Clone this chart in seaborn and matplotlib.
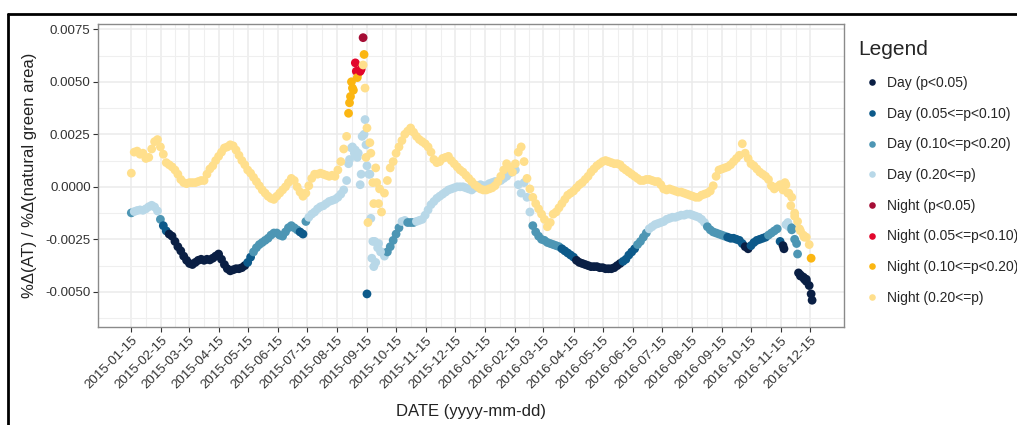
import numpy as np
import pandas as pd
import matplotlib
matplotlib.use("Agg")
import matplotlib.pyplot as plt
import matplotlib.dates as mdates
from matplotlib.lines import Line2D
import seaborn as sns

# ---------------------------------------------------------------------------
# Ratio %d(AT)/%d(natural green area), values in units of 1e-4.
# Main series sampled every 3 days starting 2015-01-15.
# Class strings: one digit per sample, 0 p<0.05, 1 0.05-0.10, 2 0.10-0.20, 3 >=0.20
# ---------------------------------------------------------------------------
start_date = "2015-01-15"
end_date = "2016-12-15"
step_days = 3

class_labels = [
    "Day (p<0.05)", "Day (0.05<=p<0.10)", "Day (0.10<=p<0.20)", "Day (0.20<=p)",
    "Night (p<0.05)", "Night (0.05<=p<0.10)", "Night (0.10<=p<0.20)", "Night (0.20<=p)",
]
class_colors = [
    "#0a1f44", "#0d5a8a", "#4d96b4", "#b8d8e8",
    "#a50d35", "#e2062c", "#fbb612", "#ffdf8c",
]

day_vals = [
    -12.4, -11.8, -11.3, -11.0, -11.2, -10.5, -9.5, -8.8, -9.6, -11.5,      # 2015-01-15
    -15.5, -18.5, -21.0, -22.5, -23.5, -26.0, -28.5, -30.5, -33.0, -35.0,
    -36.5, -37.0, -36.0, -35.0, -34.5, -35.0, -34.5, -34.8, -34.0, -33.0,
    -32.0, -34.5, -37.0, -39.0, -40.0, -39.5, -39.0, -39.0, -38.5, -37.5,
    -36.0, -33.5, -31.0, -29.0, -27.5, -26.5, -25.5, -24.5, -23.0, -22.0,
    -22.0, -23.0, -23.5, -21.5, -19.5, -18.5, -19.5, -20.5, -21.5, -22.5,
    -16.5, -14.5, -13.0, -12.0, -10.5, -9.5, -9.0, -8.0, -7.0, -6.5,
    -6.0, -5.0, -3.5, -1.5, 3.0, 13.0, 19.0, 17.5, 16.0, 6.0,
    25.0, 10.0, 6.0, -26.0, -36.0, -27.0, -31.0, -33.0, -31.0, -28.5,
    -25.5, -22.5, -19.5, -16.5, -16.0, -17.0, -17.0, -17.0, -16.5, -16.0,
    -15.5, -13.5, -11.0, -8.5, -7.0, -5.5, -4.5, -3.5, -2.5, -1.5,
    -1.0, -0.5, 0.0, 0.0, 0.0, -0.5, -1.0, -1.5, -0.5, 0.5,
    1.0, 0.5, 0.5, 1.5, 2.0, 2.5, 2.5, 3.0, 4.0, 5.0,
    6.5, 7.5, 8.0, 1.0, -3.0, 2.0, -5.0, -12.0, -18.5, -21.5,
    -23.5, -25.0, -25.5, -26.5, -27.0, -27.5, -28.0, -28.5, -29.5, -30.5,
    -31.5, -32.5, -33.5, -35.0, -36.0, -36.5, -37.0, -37.5, -38.0, -38.0,
    -38.0, -38.5, -38.5, -39.0, -39.0, -39.0, -38.5, -37.5, -36.5, -35.5,
    -34.5, -32.5, -31.0, -29.5, -27.5, -26.0, -24.0, -22.0, -20.0, -19.0,
    -18.0, -17.5, -17.0, -16.5, -15.5, -15.0, -14.5, -14.5, -14.0, -13.5,
    -13.5, -13.0, -13.0, -13.5, -14.0, -14.5, -15.5, -17.0, -19.0, -20.5,
    -21.5, -22.0, -22.5, -23.0, -23.5, -24.0, -24.5, -24.5, -25.0, -25.5,
    -27.0, -28.5, -29.5, -28.0, -26.5, -25.5, -25.0, -24.5, -24.0, -23.0,
    -22.0, -21.0, -20.0, -26.0, -28.0, -18.0, -19.0, -20.5, -25.0, -32.0,
    -42.0, -43.0, -44.0, -47.0,
]
day_class = (
    "2333333333" "2110000000" "0000000000" "0000000000" "1122222222"
    "2222222211" "2333333333" "3333333333" "3333333322" "2223322233"
    "3333333333" "3333333333" "3333333333" "3333333322" "2222222211"
    "1110000000" "0000000001" "1111222233" "3333333333" "3333333322"
    "2222211111" "1001111112" "2221033222" "0000"
)

night_vals = [
    6.5, 16.5, 17.0, 15.5, 16.0, 13.5, 14.0, 18.0, 21.5, 22.5,            # 2015-01-15
    19.0, 15.5, 11.5, 10.5, 9.5, 8.0, 6.0, 3.5, 2.0, 1.5,
    2.0, 2.0, 2.0, 2.5, 3.0, 3.0, 6.0, 8.5, 10.0, 12.5,
    14.5, 16.5, 18.5, 19.0, 20.0, 19.5, 17.5, 15.0, 12.5, 10.5,
    8.0, 6.5, 4.5, 2.5, 0.5, -1.5, -3.0, -4.5, -5.5, -6.0,
    -4.5, -3.0, -1.5, 0.0, 2.0, 4.0, 3.0, 0.0, -2.5, -4.5,
    -3.0, 0.5, 4.0, 6.0, 6.0, 6.5, 6.0, 5.5, 5.0, 5.5,
    5.0, 8.0, 12.0, 18.0, 24.0, 40.0, 47.0, 59.0, 54.0, 56.0,
    63.0, 28.0, 21.0, 2.0, 9.0, -8.0, -12.0, -3.0, 3.0, 9.0,
    12.0, 16.0, 19.0, 22.0, 25.0, 26.5, 28.0, 26.0, 24.0, 22.5,
    21.5, 20.5, 19.0, 16.5, 13.0, 11.5, 12.0, 13.5, 14.0, 14.5,
    12.5, 11.0, 9.5, 8.0, 7.0, 5.5, 4.0, 2.5, 1.0, 0.0,
    -1.0, -1.5, -1.5, -1.0, -0.5, 0.5, 2.5, 5.0, 8.0, 11.0,
    9.0, 7.0, 11.0, 16.5, 19.0, 12.0, 4.0, -1.0, -5.0, -8.0,
    -10.5, -13.0, -15.5, -19.0, -17.0, -13.0, -12.0, -10.0, -8.0, -6.0,
    -4.0, -3.0, -2.0, -0.5, 1.0, 2.0, 3.5, 5.0, 7.0, 8.5,
    10.0, 11.0, 12.0, 12.5, 12.0, 11.5, 11.0, 11.0, 10.5, 9.0,
    8.0, 7.0, 6.0, 5.0, 4.0, 3.0, 3.0, 3.5, 3.5, 3.0,
    2.5, 2.5, 1.0, -1.0, -1.5, -1.0, -1.5, -2.0, -2.5, -2.5,
    -3.0, -3.5, -4.0, -4.5, -5.0, -5.0, -4.0, -3.5, -3.0, -2.0,
    0.5, 5.0, 8.0, 8.5, 9.0, 9.5, 10.5, 12.0, 13.5, 15.0,
    20.5, 16.0, 13.5, 11.0, 10.0, 8.5, 7.0, 6.0, 5.0, 3.5,
    0.5, -1.0, 0.0, 1.0, -1.5, 1.0, -3.0, -5.0, -12.5, -16.5,
    -21.0, -23.0, -24.0, -27.5,
]
night_class = (
    "3333333333" "3333333333" "3333333333" "3333333333" "3333333333"
    "3333333333" "3333333333" "3333322121" "2333333333" "3333333333"
    "3333333333" "3333333333" "3333333333" "3333333333" "3333333333"
    "3333333333" "3333333333" "3333333333" "3333333333" "3333333333"
    "3333333333" "3333333333" "3333333333" "3333"
)

# Additional daily observations around the September 2015 swing and Dec 2016
day_extra_dates = [
    "2015-08-27", "2015-08-30", "2015-09-02", "2015-09-05", "2015-09-08",
    "2015-09-10", "2015-09-13", "2015-09-14", "2015-09-15", "2015-09-17",
    "2015-09-19", "2015-09-20", "2015-09-22", "2015-09-23", "2015-09-26",
    "2015-09-29",
    "2016-11-18", "2016-11-22", "2016-11-26", "2016-12-01", "2016-12-03",
    "2016-12-05", "2016-12-09", "2016-12-11", "2016-12-16", "2016-12-17",
]
day_extra_vals = [
    11.0, 18.5, 16.0, 14.0, 1.0,
    24.0, 32.0, 20.0, -51.0, 6.0,
    -15.0, -34.0, -38.0, -26.0, -29.0,
    -31.0,
    -29.5, -17.0, -19.5, -27.0, -41.0,
    -42.5, -44.0, -45.0, -51.0, -54.0,
]
day_extra_class = "3333333313333333" "0322000000"

night_extra_dates = [
    "2015-08-27", "2015-08-29", "2015-08-30", "2015-09-01", "2015-09-04",
    "2015-09-05", "2015-09-08", "2015-09-11", "2015-09-11", "2015-09-13",
    "2015-09-14", "2015-09-16", "2015-09-19", "2015-09-22", "2015-09-25",
    "2015-09-28",
    "2016-11-19", "2016-11-22", "2016-11-25", "2016-11-29", "2016-12-04",
    "2016-12-09", "2016-12-16",
]
night_extra_vals = [
    35.0, 43.0, 50.0, 46.0, 55.0,
    52.0, 55.0, 71.0, 58.0, 47.0,
    14.0, -17.0, 16.0, -8.0, 2.0,
    -1.0,
    2.0, -3.0, -9.0, -14.0, -20.0,
    -24.0, -34.0,
]
night_extra_class = "2222121033333333" "3333332"

y_ticks = [-0.0050, -0.0025, 0.0000, 0.0025, 0.0050, 0.0075]

# ---------------------------------------------------------------------------
def series_frame(dates, values, classes, offset):
    return pd.DataFrame({
        "date": dates,
        "value": np.asarray(values, dtype=float) * 1e-4,
        "cls": [class_labels[offset + int(c)] for c in classes],
    })


day_dates = pd.date_range(start_date, periods=len(day_vals), freq=f"{step_days}D")
night_dates = pd.date_range(start_date, periods=len(night_vals), freq=f"{step_days}D")

df = pd.concat([
    series_frame(day_dates, day_vals, day_class, 0),
    series_frame(pd.to_datetime(day_extra_dates), day_extra_vals, day_extra_class, 0),
    series_frame(night_dates, night_vals, night_class, 4),
    series_frame(pd.to_datetime(night_extra_dates), night_extra_vals, night_extra_class, 4),
], ignore_index=True)

sns.set_theme(style="whitegrid")
plt.rcParams["font.family"] = ["Liberation Sans", "DejaVu Sans"]

fig = plt.figure(figsize=(10.17, 4.25), dpi=100)
ax = fig.add_axes([0.0967, 0.2313, 0.7333, 0.7122])

palette = dict(zip(class_labels, class_colors))
sns.scatterplot(data=df, x="date", y="value", hue="cls", hue_order=class_labels,
                palette=palette, s=40, linewidth=0, ax=ax, zorder=3)

# axes limits and ticks
t0 = pd.Timestamp(start_date)
ax.set_xlim(mdates.date2num(t0 - pd.Timedelta(days=34)),
            mdates.date2num(t0 + pd.Timedelta(days=735)))

x_major = pd.date_range(start_date, end_date, freq=pd.DateOffset(months=1))
x_major_num = mdates.date2num(x_major)
x_minor_num = (x_major_num[:-1] + x_major_num[1:]) / 2
ax.set_xticks(x_major_num)
ax.set_xticks(x_minor_num, minor=True)
ax.set_xticklabels([d.strftime("%Y-%m-%d") for d in x_major], rotation=45,
                   ha="right", va="top", rotation_mode="anchor")

ax.set_yticks(y_ticks)
ax.set_yticks([(a + b) / 2 for a, b in zip([-0.0075] + y_ticks[:-1], y_ticks)]
              + [0.00875], minor=True)
ax.set_ylim(-0.00666, 0.00775)
ax.set_yticklabels([f"{v:.4f}" for v in y_ticks])

ax.grid(which="major", color="#ebebeb", linewidth=1.1, zorder=0)
ax.grid(which="minor", color="#efefef", linewidth=0.8, zorder=0)
ax.set_axisbelow(True)
for sp in ax.spines.values():
    sp.set_color("#8a8a8a")
    sp.set_linewidth(1.0)

ax.tick_params(axis="both", which="major", length=3.5, width=0.8, color="#333333",
               labelsize=9.6, labelcolor="#333333", pad=2)
ax.tick_params(axis="both", which="minor", length=0)
ax.tick_params(axis="x", bottom=True)
ax.tick_params(axis="y", left=True)

ax.set_xlabel("DATE (yyyy-mm-dd)", fontsize=12, color="#222222", labelpad=9)
ax.set_ylabel("%Δ(AT) / %Δ(natural green area)", fontsize=12, color="#222222",
              labelpad=6)

sns.move_legend(ax, "upper left", bbox_to_anchor=(0.838, 0.918),
                bbox_transform=fig.transFigure, title="Legend", frameon=False,
                fontsize=10, title_fontsize=15, labelspacing=1.2,
                handletextpad=0.1, markerscale=0.75, alignment="left",
                borderaxespad=0)

# outer frame lines along the top and left edges
fig.add_artist(Line2D([8 / 1017, 1.0], [1 - 14 / 425, 1 - 14 / 425],
                      transform=fig.transFigure, color="black", linewidth=2))
fig.add_artist(Line2D([8 / 1017, 8 / 1017], [0.0, 1 - 14 / 425],
                      transform=fig.transFigure, color="black", linewidth=2))

fig.savefig("out.png", dpi=100)
